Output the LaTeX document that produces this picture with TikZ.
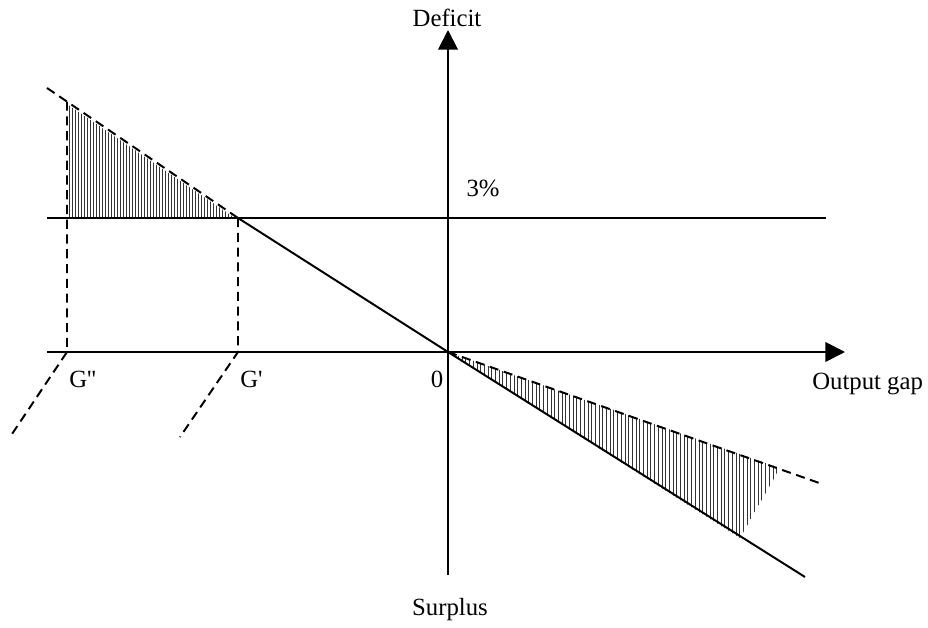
\documentclass[tikz,border=0pt]{standalone}
\usepackage{fontspec}
\setmainfont{Liberation Serif}
\usetikzlibrary{arrows.meta}

\begin{document}
\begin{tikzpicture}[
			x=0.025cm,
			y=-0.025cm,
			axis/.style={
				-{Triangle[length=14pt,width=14pt]},
				line width=1.4pt
			},
			rule/.style={
				line width=1.4pt
			},
			guide/.style={
				line width=1.4pt,
				dash pattern=on 6.5pt off 4pt
			},
			hatch/.style={
				line width=0.55pt,
				black!80
			},
			lab/.style={
				inner sep=0pt,
				font=\fontsize{17.6}{20}\selectfont
			}
			]
			
			\useasboundingbox (0,0) rectangle (928,628);
			
			\coordinate (o) at (448,352);
			\coordinate (xl) at (47,352);
			\coordinate (xr) at (845,352);
			\coordinate (yb) at (448,575);
			\coordinate (yt) at (448,30);
			\coordinate (cl) at (47,218);
			\coordinate (cr) at (826,218);
			\coordinate (gone) at (238,218);
			\coordinate (gtwo) at (67,101.6);
			\coordinate (gtwomid) at (67,218);
			\coordinate (gonebase) at (238,352);
			\coordinate (gtwobase) at (67,352);
			\coordinate (dl) at (47,88);
			\coordinate (sr) at (805,577);
			\coordinate (dr) at (822,484);
			\coordinate (gonelow) at (180,437);
			\coordinate (gtwolow) at (10,437);
			
			\begin{scope}
				\clip (67,104) -- (235,218) -- (gtwomid) -- cycle;
				\foreach \x in {69,72,...,238}
				\draw [hatch] (\x,90) -- (\x,220);
			\end{scope}
			\begin{scope}
				\clip (o) -- (780,468) -- (740,538) -- cycle;
				\foreach \x in {451,454.7,...,780}
				\draw [hatch] (\x,350) -- (\x,540);
			\end{scope}
			
			\draw [rule] (cl) -- (cr);
			\draw [rule] (gone) -- (o) -- (sr);
			\draw [guide] (dl) -- (gone);
			\draw [guide] (o) -- (dr);
			\draw [guide] (gtwo) -- (gtwobase) -- (gtwolow);
			\draw [guide] (gone) -- (gonebase) -- (gonelow);
			\draw [axis] (xl) -- (xr);
			\draw [axis] (yb) -- (yt);
			
			\node (deficit) [lab, anchor=base] at (447,27) {Deficit};
			\node (surplus) [lab, anchor=base] at (450,616) {Surplus};
			\node (three) [lab, anchor=base] at (483,197) {3\%};
			\node (zero) [lab, anchor=base] at (437,388) {0};
			\node (gtwolab) [lab, anchor=base west] at (69,388) {G\textquotesingle\textquotesingle};
			\node (gonelab) [lab, anchor=base west] at (240,388) {G\textquotesingle};
			\node (gap) [lab, anchor=base west] at (812,390) {Output gap};
			
		\end{tikzpicture}
\end{document}
